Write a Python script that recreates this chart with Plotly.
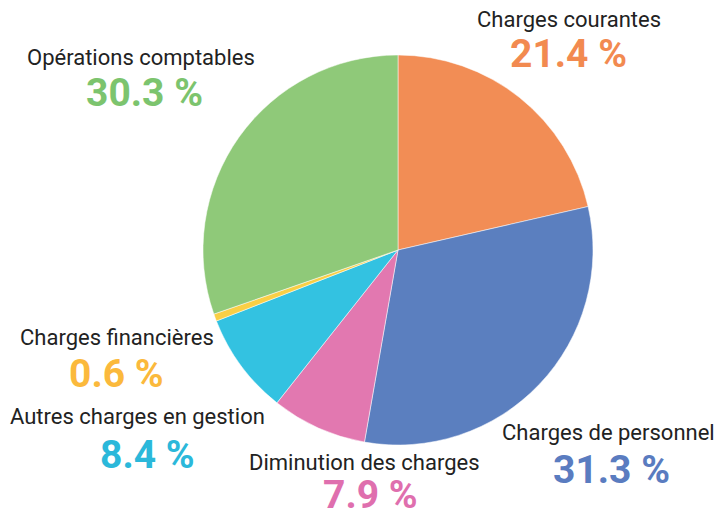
import plotly.graph_objects as go

categories = ["Charges courantes", "Charges de personnel", "Diminution des charges",
              "Autres charges en gestion", "Charges financières", "Opérations comptables"]
values = [21.4, 31.3, 7.9, 8.4, 0.6, 30.3]
slice_colors = ["#F28D55", "#5B7FBF", "#E278B0", "#33C2E1", "#F9CF45", "#8FC979"]
text_colors = ["#F28A50", "#5A7CC0", "#DF6FAE", "#2BB8DA", "#FBB93C", "#7CC46E"]

# label placement (pixel centers) for label and percentage
label_pos = [(569, 20), (608, 432), (364, 462), (137, 416), (117, 337), (141, 57)]
pct_pos = [(568, 54), (611, 470), (370, 495), (147, 455), (116, 374), (144, 93)]

W, H = 714, 515
cx, cy, r = 398, 250, 195

fig = go.Figure(go.Pie(
    labels=categories, values=values, sort=False, direction="clockwise", rotation=0,
    marker=dict(colors=slice_colors, line=dict(color="white", width=0.5)),
    textinfo="none", hoverinfo="label+percent", showlegend=False,
    domain=dict(x=[(cx - r) / W, (cx + r) / W], y=[1 - (cy + r) / H, 1 - (cy - r) / H]),
))

ann = []
for cat, v, tc, (lx, ly), (px, py) in zip(categories, values, text_colors, label_pos, pct_pos):
    ann.append(dict(text=cat, x=lx / W, y=1 - ly / H, xref="paper", yref="paper",
                    xanchor="center", yanchor="middle", showarrow=False,
                    font=dict(family="Roboto", size=22, color="#222222")))
    ann.append(dict(text=f"<b>{v} %</b>", x=px / W, y=1 - py / H, xref="paper", yref="paper",
                    xanchor="center", yanchor="middle", showarrow=False,
                    font=dict(family="Roboto", size=39, color=tc)))

fig.update_layout(width=W, height=H, margin=dict(l=0, r=0, t=0, b=0),
                  paper_bgcolor="white", plot_bgcolor="white", annotations=ann)
fig.write_html("out.html", config={"displayModeBar": False},
               post_script="document.body.style.margin='0';document.body.style.overflow='hidden';")
